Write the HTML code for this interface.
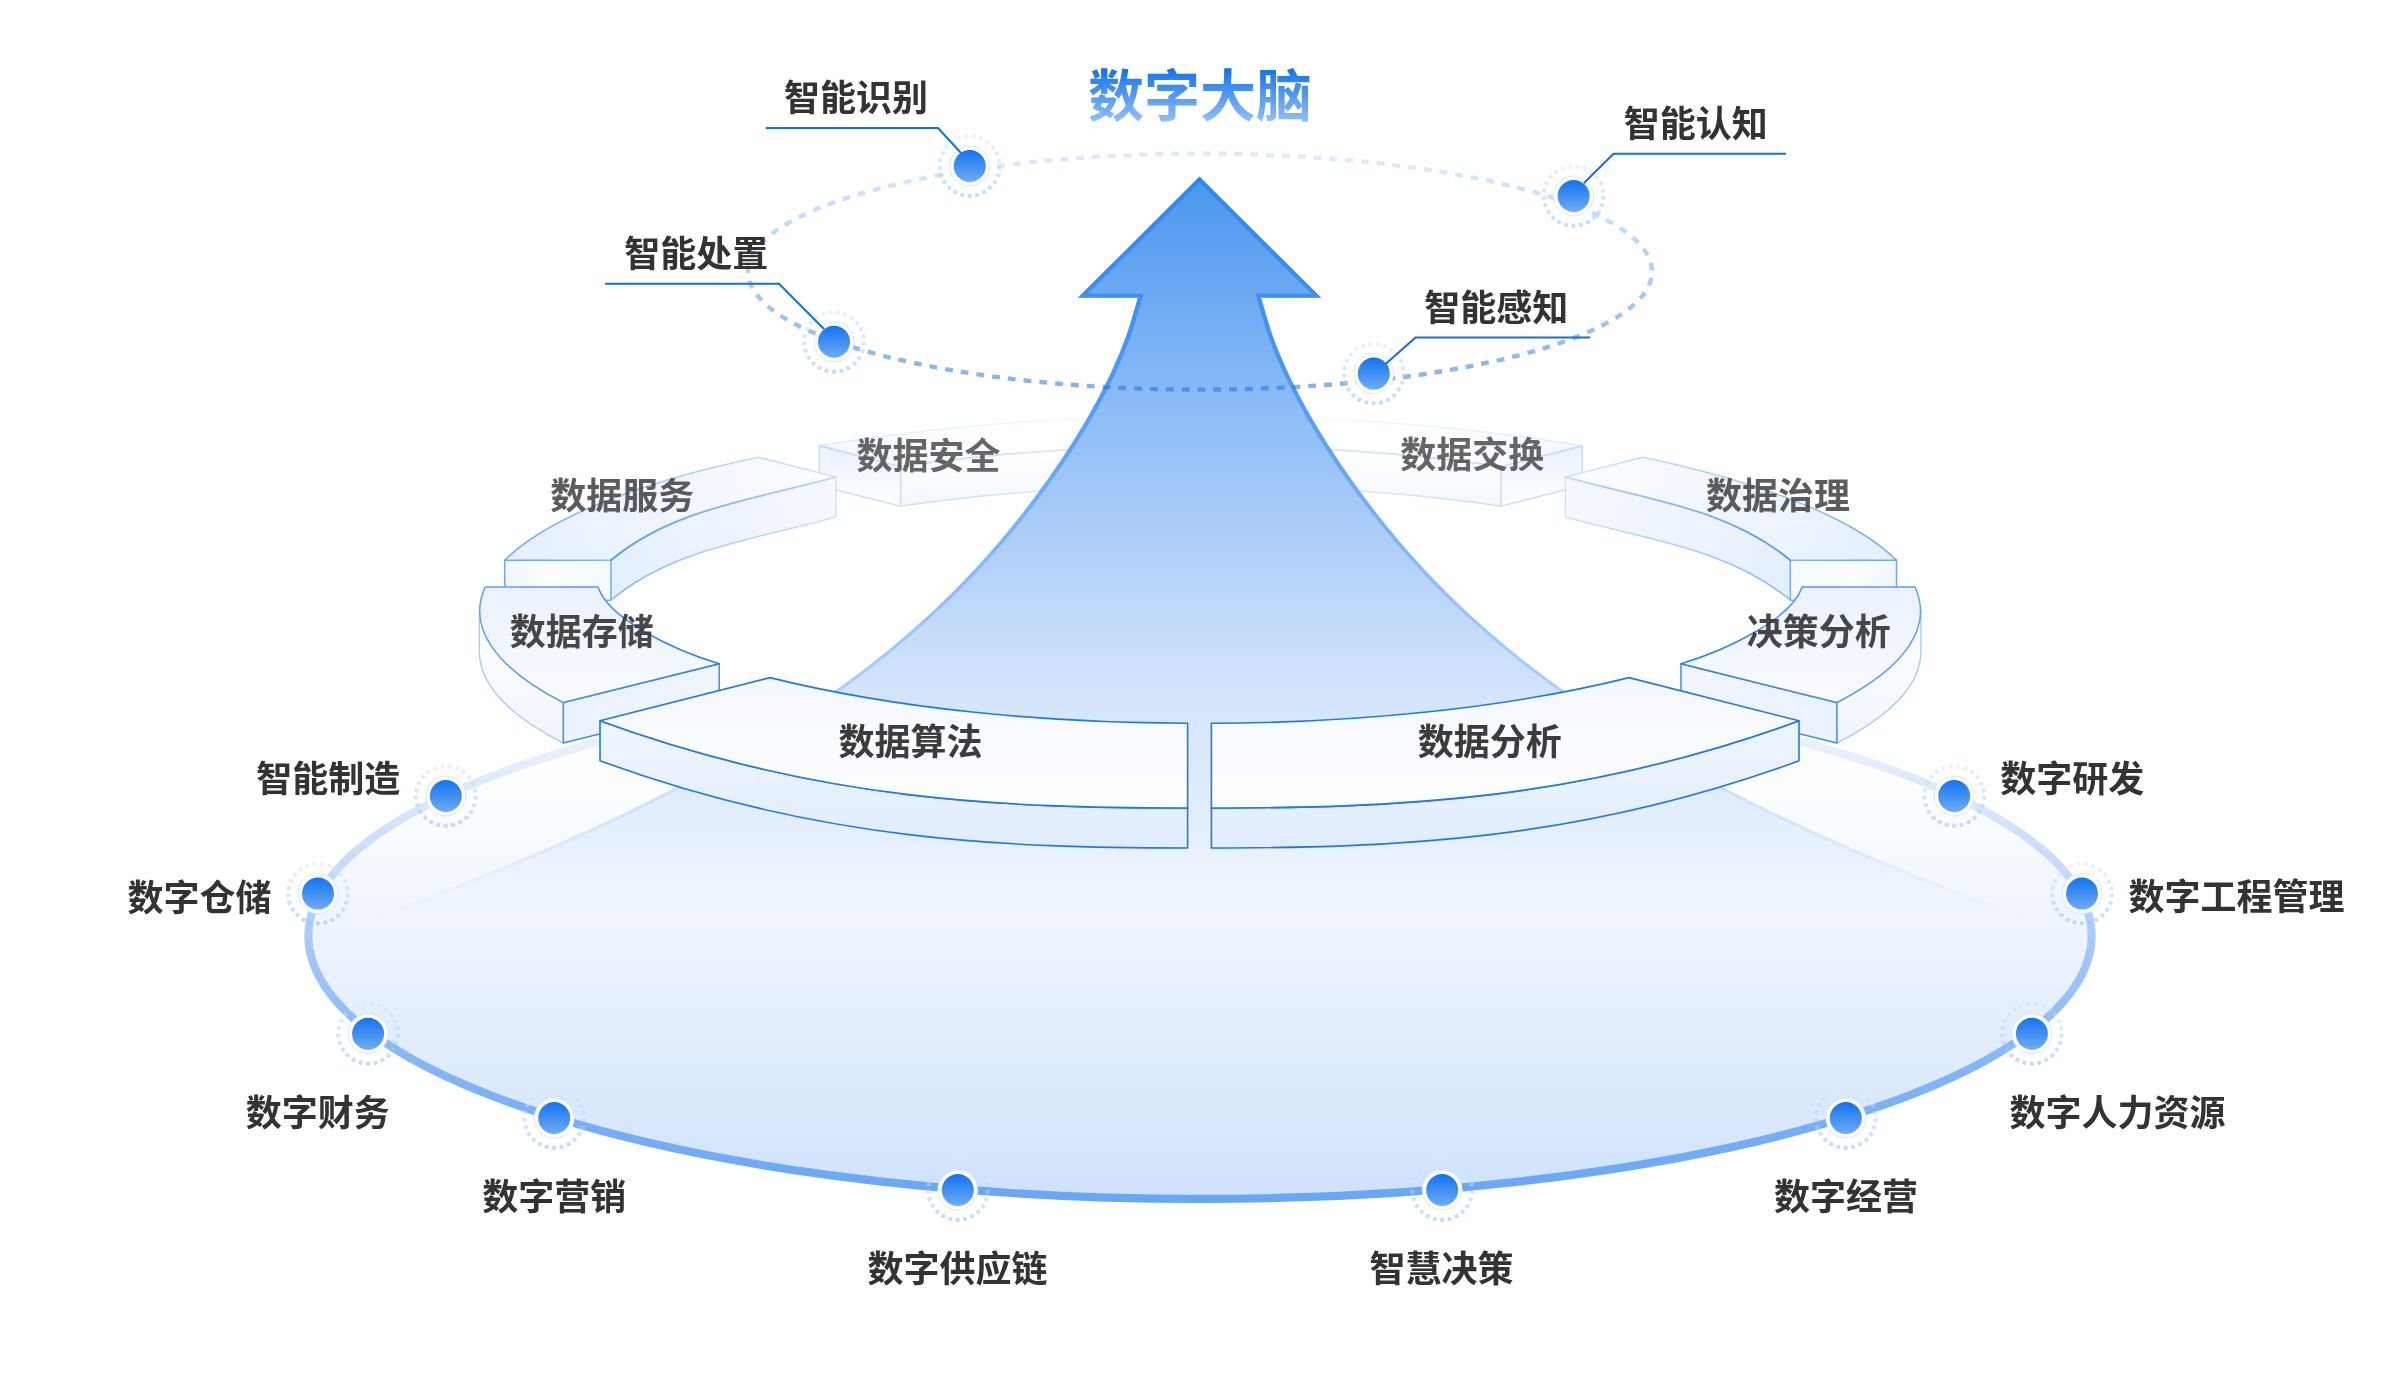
<!DOCTYPE html>
<html lang="zh-CN"><head><meta charset="utf-8"><title>数字大脑</title>
<style>
html,body{margin:0;padding:0;background:#fff;}
body{width:2400px;height:1396px;overflow:hidden;}
svg{display:block;font-family:"Liberation Sans","Noto Sans CJK SC",sans-serif;will-change:transform;}
</style></head><body>
<svg width="2400" height="1396" viewBox="0 0 2400 1396">
<defs>
<linearGradient id="gBase" gradientUnits="userSpaceOnUse" x1="0" y1="673" x2="0" y2="1199">
 <stop offset="0" stop-color="#ffffff"/><stop offset="0.24" stop-color="#fbfdff"/><stop offset="0.39" stop-color="#f3f8fe"/><stop offset="0.49" stop-color="#eef4fe"/><stop offset="0.62" stop-color="#e6f0fd"/><stop offset="0.81" stop-color="#dbe9fc"/><stop offset="1" stop-color="#cfe2fb"/>
</linearGradient>
<linearGradient id="gBaseS" gradientUnits="userSpaceOnUse" x1="0" y1="673" x2="0" y2="1199">
 <stop offset="0" stop-color="#f3f8fe"/><stop offset="0.13" stop-color="#e9f1fd"/><stop offset="0.23" stop-color="#dbe9fc"/><stop offset="0.42" stop-color="#bdd7f9"/><stop offset="0.5" stop-color="#a8cbf8"/><stop offset="0.75" stop-color="#83b6f6"/><stop offset="1" stop-color="#68a7f5"/>
</linearGradient>
<linearGradient id="gArrow" gradientUnits="userSpaceOnUse" x1="0" y1="177" x2="0" y2="1199">
 <stop offset="0.0" stop-color="#4a96f0"/><stop offset="0.2084" stop-color="#88b9f6"/><stop offset="0.502" stop-color="#d3e4fb"/><stop offset="0.6096" stop-color="#e1edfc"/><stop offset="0.6585" stop-color="#e8f1fd"/><stop offset="0.7515" stop-color="#eef4fe" stop-opacity="0"/>
</linearGradient>
<linearGradient id="gArrowS" gradientUnits="userSpaceOnUse" x1="0" y1="177" x2="0" y2="940">
 <stop offset="0.0" stop-color="#2f87f1"/><stop offset="0.2005" stop-color="#4293f3"/><stop offset="0.4495" stop-color="#7ab2f7"/><stop offset="0.6723" stop-color="#aed0fa"/><stop offset="0.8034" stop-color="#cfe2fb"/><stop offset="0.8952" stop-color="#dbe9fc" stop-opacity="0.8"/><stop offset="0.9803" stop-color="#e6f0fd" stop-opacity="0"/>
</linearGradient>
<linearGradient id="gOrb" gradientUnits="userSpaceOnUse" x1="0" y1="154" x2="0" y2="390">
 <stop offset="0" stop-color="#1a73e8" stop-opacity="0.14"/><stop offset="1" stop-color="#1a73e8" stop-opacity="0.55"/>
</linearGradient>
<linearGradient id="gDot" x1="0" y1="0" x2="0" y2="1">
 <stop offset="0" stop-color="#1273ee"/><stop offset="1" stop-color="#6eacf6"/>
</linearGradient>
<linearGradient id="gRing" gradientUnits="userSpaceOnUse" x1="0" y1="-32" x2="0" y2="32">
 <stop offset="0" stop-color="#dae9fd"/><stop offset="1" stop-color="#90bef6"/>
</linearGradient>
<linearGradient id="gTitle" gradientUnits="userSpaceOnUse" x1="0" y1="68" x2="0" y2="122">
 <stop offset="0" stop-color="#0f72ee"/><stop offset="1" stop-color="#93c0f8"/>
</linearGradient>
<linearGradient id="gTop" x1="0" y1="0" x2="0" y2="1">
 <stop offset="0" stop-color="#f4f8ff"/><stop offset="1" stop-color="#fdfeff"/>
</linearGradient>
<linearGradient id="gTop2" x1="0" y1="0" x2="0" y2="1">
 <stop offset="0" stop-color="#eaf2fe"/><stop offset="1" stop-color="#f9fbff"/>
</linearGradient>
<linearGradient id="gWall" x1="0" y1="0" x2="0" y2="1">
 <stop offset="0" stop-color="#eef5fe"/><stop offset="1" stop-color="#e1edfd"/>
</linearGradient>
<linearGradient id="gSideS" gradientUnits="userSpaceOnUse" x1="500" y1="590" x2="700" y2="690">
 <stop offset="0" stop-color="#5fa0f3"/><stop offset="1" stop-color="#2a7fec"/>
</linearGradient>
<linearGradient id="gSideWall" gradientUnits="userSpaceOnUse" x1="0" y1="612" x2="0" y2="745">
 <stop offset="0" stop-color="#ffffff"/><stop offset="1" stop-color="#eff5fe"/>
</linearGradient>
<linearGradient id="gSideEnd" gradientUnits="userSpaceOnUse" x1="560" y1="0" x2="720" y2="0">
 <stop offset="0" stop-color="#e9f2fe"/><stop offset="1" stop-color="#f1f6fe"/>
</linearGradient>
<linearGradient id="gMidS" gradientUnits="userSpaceOnUse" x1="560" y1="600" x2="830" y2="460">
 <stop offset="0" stop-color="#6eaaf4"/><stop offset="0.5" stop-color="#a8ccf8"/><stop offset="1" stop-color="#d3e4fc"/>
</linearGradient>
<linearGradient id="gMidTop" gradientUnits="userSpaceOnUse" x1="540" y1="570" x2="800" y2="460">
 <stop offset="0" stop-color="#e6f0fe"/><stop offset="1" stop-color="#fafcff"/>
</linearGradient>
<linearGradient id="gMidWall" gradientUnits="userSpaceOnUse" x1="610" y1="590" x2="840" y2="490">
 <stop offset="0" stop-color="#e4effd"/><stop offset="1" stop-color="#f6f9ff"/>
</linearGradient>
<linearGradient id="gBackS" gradientUnits="userSpaceOnUse" x1="820" y1="0" x2="1100" y2="0">
 <stop offset="0" stop-color="#c6dcfa"/><stop offset="1" stop-color="#d9e8fc"/>
</linearGradient>
<linearGradient id="gBackTop" gradientUnits="userSpaceOnUse" x1="820" y1="0" x2="1000" y2="0">
 <stop offset="0" stop-color="#f3f8fe"/><stop offset="1" stop-color="#ffffff"/>
</linearGradient>
<linearGradient id="gBackWall" gradientUnits="userSpaceOnUse" x1="0" y1="455" x2="0" y2="506">
 <stop offset="0" stop-color="#ffffff"/><stop offset="1" stop-color="#f3f7fe"/>
</linearGradient>
<linearGradient id="gBackEnd" gradientUnits="userSpaceOnUse" x1="0" y1="446" x2="0" y2="506">
 <stop offset="0" stop-color="#eaf2fd"/><stop offset="1" stop-color="#fdfeff"/>
</linearGradient>
<linearGradient id="gArrowS2" gradientUnits="userSpaceOnUse" x1="0" y1="177" x2="0" y2="620">
 <stop offset="0" stop-color="#2f87f1"/><stop offset="0.35" stop-color="#4293f3"/><stop offset="0.6" stop-color="#5ba1f5" stop-opacity="0.9"/><stop offset="1" stop-color="#8fbef8" stop-opacity="0"/>
</linearGradient>
<linearGradient id="gBackS2" gradientUnits="userSpaceOnUse" x1="820" y1="0" x2="1060" y2="0">
 <stop offset="0" stop-color="#dbe9fc"/><stop offset="1" stop-color="#f3f7fe"/>
</linearGradient>
<linearGradient id="gMidFront" gradientUnits="userSpaceOnUse" x1="505" y1="600" x2="611" y2="560">
 <stop offset="0" stop-color="#eef4fe"/><stop offset="0.45" stop-color="#fbfdff"/><stop offset="1" stop-color="#f6f9ff"/>
</linearGradient>
<linearGradient id="gMidS3" gradientUnits="userSpaceOnUse" x1="611" y1="560" x2="836" y2="477">
 <stop offset="0" stop-color="#4f97f2"/><stop offset="0.6" stop-color="#8abaf7"/><stop offset="1" stop-color="#c3dbfb"/>
</linearGradient>
<g id="dot">
 <circle r="29.8" fill="none" stroke="url(#gRing)" stroke-opacity="0.54" stroke-width="4" stroke-dasharray="3.75 3.74"/>
 <circle r="20" fill="#fff" stroke="#cfe2fb" stroke-width="0.8"/>
 <circle r="16" fill="url(#gDot)"/>
</g>
</defs>
<rect width="2400" height="1396" fill="#fff"/>
<!-- base -->
<ellipse cx="1200" cy="936" rx="891.6" ry="263" fill="url(#gBase)"/>
<!-- back ring -->
<g><path d="M819.4 445.7A720.2 195.6 0 0 1 1195 416.2L1195 446A631.1 172.9 0 0 0 900.6 466.6Z" fill="url(#gBackTop)"/><path d="M819.4 445.7A720.2 195.6 0 0 1 1195 416.2" fill="none" stroke="url(#gBackS2)" stroke-width="1.3" stroke-linejoin="round" stroke-linecap="round"/><path d="M900.6 466.6A631.1 172.9 0 0 1 1195 446L1195 485.5A631.1 172.9 0 0 0 900.6 506.1Z" fill="url(#gBackWall)" stroke="url(#gBackS)" stroke-width="1.4" stroke-linejoin="round" stroke-linecap="round"/><path d="M819.4 445.7L900.6 466.6L900.6 506.1L819.4 485.7Z" fill="url(#gBackEnd)" stroke="url(#gBackS)" stroke-width="1.4" stroke-linejoin="round" stroke-linecap="round"/><path d="M819.4 445.7L900.6 466.6A631.1 172.9 0 0 1 1195 446" fill="none" stroke="url(#gBackS)" stroke-width="1.4" stroke-linejoin="round" stroke-linecap="round"/></g><g transform="translate(2401.6,0) scale(-1,1)"><path d="M819.4 445.7A720.2 195.6 0 0 1 1195 416.2L1195 446A631.1 172.9 0 0 0 900.6 466.6Z" fill="url(#gBackTop)"/><path d="M819.4 445.7A720.2 195.6 0 0 1 1195 416.2" fill="none" stroke="url(#gBackS2)" stroke-width="1.3" stroke-linejoin="round" stroke-linecap="round"/><path d="M900.6 466.6A631.1 172.9 0 0 1 1195 446L1195 485.5A631.1 172.9 0 0 0 900.6 506.1Z" fill="url(#gBackWall)" stroke="url(#gBackS)" stroke-width="1.4" stroke-linejoin="round" stroke-linecap="round"/><path d="M819.4 445.7L900.6 466.6L900.6 506.1L819.4 485.7Z" fill="url(#gBackEnd)" stroke="url(#gBackS)" stroke-width="1.4" stroke-linejoin="round" stroke-linecap="round"/><path d="M819.4 445.7L900.6 466.6A631.1 172.9 0 0 1 1195 446" fill="none" stroke="url(#gBackS)" stroke-width="1.4" stroke-linejoin="round" stroke-linecap="round"/></g>
<g><path d="M610.8 560.3C672.7 508.3 755.8 499.3 835.8 477L835.8 517C755.8 539.3 672.7 548.3 610.8 600.3Z" fill="url(#gMidWall)" stroke="url(#gMidS)" stroke-width="1.5" stroke-linejoin="round" stroke-linecap="round"/><path d="M504.7 560.3L610.8 560.3L610.8 600.3L504.7 600.3Z" fill="url(#gMidFront)" stroke="url(#gMidS)" stroke-width="1.5" stroke-linejoin="round" stroke-linecap="round"/><path d="M504.7 560.3A720.2 195.6 0 0 1 758.3 457.2L835.8 477C755.8 499.3 672.7 508.3 610.8 560.3Z" fill="url(#gMidTop)" stroke="url(#gMidS)" stroke-width="1.5" stroke-linejoin="round" stroke-linecap="round"/><path d="M610.8 560.3C672.7 508.3 755.8 499.3 835.8 477" fill="none" stroke="url(#gMidS3)" stroke-width="1.6" stroke-linejoin="round" stroke-linecap="round"/></g><g transform="translate(2401.2,0) scale(-1,1)"><path d="M610.8 560.3C672.7 508.3 755.8 499.3 835.8 477L835.8 517C755.8 539.3 672.7 548.3 610.8 600.3Z" fill="url(#gMidWall)" stroke="url(#gMidS)" stroke-width="1.5" stroke-linejoin="round" stroke-linecap="round"/><path d="M504.7 560.3L610.8 560.3L610.8 600.3L504.7 600.3Z" fill="url(#gMidFront)" stroke="url(#gMidS)" stroke-width="1.5" stroke-linejoin="round" stroke-linecap="round"/><path d="M504.7 560.3A720.2 195.6 0 0 1 758.3 457.2L835.8 477C755.8 499.3 672.7 508.3 610.8 560.3Z" fill="url(#gMidTop)" stroke="url(#gMidS)" stroke-width="1.5" stroke-linejoin="round" stroke-linecap="round"/><path d="M610.8 560.3C672.7 508.3 755.8 499.3 835.8 477" fill="none" stroke="url(#gMidS3)" stroke-width="1.6" stroke-linejoin="round" stroke-linecap="round"/></g>
<!-- arrow -->
<path d="M1199.5 179.6L1082.9 295.6L1140.7 295.6C1138.6 302.5 1132.8 323.9 1128.1 337.1C1123.4 350.2 1118.1 362.2 1112.5 374.3C1106.8 386.5 1100.5 398.4 1094 410.2C1087.5 421.9 1080.5 433.4 1073.3 444.8C1066.1 456.2 1058.5 467.4 1050.7 478.4C1043 489.4 1034.9 500.3 1026.6 511C1018.4 521.6 1009.8 532.1 1001 542.4C992.2 552.7 983.2 562.7 974 572.6C964.7 582.4 955.3 592 945.6 601.3C935.9 610.7 926 619.8 915.9 628.7C905.9 637.6 895.6 646.2 885.2 654.7C874.7 663.1 864.1 671.3 853.3 679.3C842.6 687.4 831.6 695.2 820.5 702.8C809.5 710.4 798.3 717.8 786.9 725.1C775.6 732.3 764.1 739.4 752.5 746.3C741 753.2 729.3 759.9 717.5 766.5C705.8 773.1 693.9 779.5 682 785.8C670 792 658 798.1 646 804.1C633.9 810.1 621.8 816 609.6 821.7C597.4 827.4 585.1 833 572.8 838.5C560.5 844 548.2 849.4 535.8 854.7C523.4 859.9 511 865.1 498.5 870.2C486 875.3 473.5 880.3 461 885.2C448.5 890.1 436 895 423.4 899.7C410.8 904.5 398.3 909.2 385.6 913.7C373 918.2 360.3 922.8 347.5 926.5C334.6 930.3 314.9 934.4 308.4 936A891.6 263 0 0 0 2090.6 936C2084.1 934.4 2064.4 930.3 2051.5 926.5C2038.7 922.8 2026 918.2 2013.4 913.7C2000.7 909.2 1988.2 904.5 1975.6 899.7C1963 895 1950.5 890.1 1938 885.2C1925.5 880.3 1913 875.3 1900.5 870.2C1888 865.1 1875.6 859.9 1863.2 854.7C1850.8 849.4 1838.5 844 1826.2 838.5C1813.9 833 1801.6 827.4 1789.4 821.7C1777.2 816 1765.1 810.1 1753 804.1C1741 798.1 1729 792 1717 785.8C1705.1 779.5 1693.2 773.1 1681.5 766.5C1669.7 759.9 1658 753.2 1646.5 746.3C1634.9 739.4 1623.4 732.3 1612.1 725.1C1600.7 717.8 1589.5 710.4 1578.5 702.8C1567.4 695.2 1556.4 687.4 1545.7 679.3C1534.9 671.3 1524.3 663.1 1513.8 654.7C1503.4 646.2 1493.1 637.6 1483.1 628.7C1473 619.8 1463.1 610.7 1453.4 601.3C1443.7 592 1434.3 582.4 1425 572.6C1415.8 562.7 1406.8 552.7 1398 542.4C1389.2 532.1 1380.6 521.6 1372.4 511C1364.1 500.3 1356 489.4 1348.3 478.4C1340.5 467.4 1332.9 456.2 1325.7 444.8C1318.5 433.4 1311.5 421.9 1305 410.2C1298.5 398.4 1292.2 386.5 1286.5 374.3C1280.9 362.2 1275.6 350.2 1270.9 337.1C1266.2 323.9 1260.4 302.5 1258.3 295.6L1316.1 295.6Z" fill="url(#gArrow)"/>
<path d="M308.4 936C314.9 934.4 334.6 930.3 347.5 926.5C360.3 922.8 373 918.2 385.6 913.7C398.3 909.2 410.8 904.5 423.4 899.7C436 895 448.5 890.1 461 885.2C473.5 880.3 486 875.3 498.5 870.2C511 865.1 523.4 859.9 535.8 854.7C548.2 849.4 560.5 844 572.8 838.5C585.1 833 597.4 827.4 609.6 821.7C621.8 816 633.9 810.1 646 804.1C658 798.1 670 792 682 785.8C693.9 779.5 705.8 773.1 717.5 766.5C729.3 759.9 741 753.2 752.5 746.3C764.1 739.4 775.6 732.3 786.9 725.1C798.3 717.8 809.5 710.4 820.5 702.8C831.6 695.2 842.6 687.4 853.3 679.3C864.1 671.3 874.7 663.1 885.2 654.7C895.6 646.2 905.9 637.6 915.9 628.7C926 619.8 935.9 610.7 945.6 601.3C955.3 592 964.7 582.4 974 572.6C983.2 562.7 992.2 552.7 1001 542.4C1009.8 532.1 1018.4 521.6 1026.6 511C1034.9 500.3 1043 489.4 1050.7 478.4C1058.5 467.4 1066.1 456.2 1073.3 444.8C1080.5 433.4 1087.5 421.9 1094 410.2C1100.5 398.4 1106.8 386.5 1112.5 374.3C1118.1 362.2 1123.4 350.2 1128.1 337.1C1132.8 323.9 1138.6 302.5 1140.7 295.6L1082.9 295.6L1199.5 179.6L1316.1 295.6L1258.3 295.6C1260.4 302.5 1266.2 323.9 1270.9 337.1C1275.6 350.2 1280.9 362.2 1286.5 374.3C1292.2 386.5 1298.5 398.4 1305 410.2C1311.5 421.9 1318.5 433.4 1325.7 444.8C1332.9 456.2 1340.5 467.4 1348.3 478.4C1356 489.4 1364.1 500.3 1372.4 511C1380.6 521.6 1389.2 532.1 1398 542.4C1406.8 552.7 1415.8 562.7 1425 572.6C1434.3 582.4 1443.7 592 1453.4 601.3C1463.1 610.7 1473 619.8 1483.1 628.7C1493.1 637.6 1503.4 646.2 1513.8 654.7C1524.3 663.1 1534.9 671.3 1545.7 679.3C1556.4 687.4 1567.4 695.2 1578.5 702.8C1589.5 710.4 1600.7 717.8 1612.1 725.1C1623.4 732.3 1634.9 739.4 1646.5 746.3C1658 753.2 1669.7 759.9 1681.5 766.5C1693.2 773.1 1705.1 779.5 1717 785.8C1729 792 1741 798.1 1753 804.1C1765.1 810.1 1777.2 816 1789.4 821.7C1801.6 827.4 1813.9 833 1826.2 838.5C1838.5 844 1850.8 849.4 1863.2 854.7C1875.6 859.9 1888 865.1 1900.5 870.2C1913 875.3 1925.5 880.3 1938 885.2C1950.5 890.1 1963 895 1975.6 899.7C1988.2 904.5 2000.7 909.2 2013.4 913.7C2026 918.2 2038.7 922.8 2051.5 926.5C2064.4 930.3 2084.1 934.4 2090.6 936" fill="none" stroke="url(#gArrowS)" stroke-width="3.1" stroke-linejoin="miter" stroke-miterlimit="10"/>
<path d="M308.4 936C314.9 934.4 334.6 930.3 347.5 926.5C360.3 922.8 373 918.2 385.6 913.7C398.3 909.2 410.8 904.5 423.4 899.7C436 895 448.5 890.1 461 885.2C473.5 880.3 486 875.3 498.5 870.2C511 865.1 523.4 859.9 535.8 854.7C548.2 849.4 560.5 844 572.8 838.5C585.1 833 597.4 827.4 609.6 821.7C621.8 816 633.9 810.1 646 804.1C658 798.1 670 792 682 785.8C693.9 779.5 705.8 773.1 717.5 766.5C729.3 759.9 741 753.2 752.5 746.3C764.1 739.4 775.6 732.3 786.9 725.1C798.3 717.8 809.5 710.4 820.5 702.8C831.6 695.2 842.6 687.4 853.3 679.3C864.1 671.3 874.7 663.1 885.2 654.7C895.6 646.2 905.9 637.6 915.9 628.7C926 619.8 935.9 610.7 945.6 601.3C955.3 592 964.7 582.4 974 572.6C983.2 562.7 992.2 552.7 1001 542.4C1009.8 532.1 1018.4 521.6 1026.6 511C1034.9 500.3 1043 489.4 1050.7 478.4C1058.5 467.4 1066.1 456.2 1073.3 444.8C1080.5 433.4 1087.5 421.9 1094 410.2C1100.5 398.4 1106.8 386.5 1112.5 374.3C1118.1 362.2 1123.4 350.2 1128.1 337.1C1132.8 323.9 1138.6 302.5 1140.7 295.6L1082.9 295.6L1199.5 179.6L1316.1 295.6L1258.3 295.6C1260.4 302.5 1266.2 323.9 1270.9 337.1C1275.6 350.2 1280.9 362.2 1286.5 374.3C1292.2 386.5 1298.5 398.4 1305 410.2C1311.5 421.9 1318.5 433.4 1325.7 444.8C1332.9 456.2 1340.5 467.4 1348.3 478.4C1356 489.4 1364.1 500.3 1372.4 511C1380.6 521.6 1389.2 532.1 1398 542.4C1406.8 552.7 1415.8 562.7 1425 572.6C1434.3 582.4 1443.7 592 1453.4 601.3C1463.1 610.7 1473 619.8 1483.1 628.7C1493.1 637.6 1503.4 646.2 1513.8 654.7C1524.3 663.1 1534.9 671.3 1545.7 679.3C1556.4 687.4 1567.4 695.2 1578.5 702.8C1589.5 710.4 1600.7 717.8 1612.1 725.1C1623.4 732.3 1634.9 739.4 1646.5 746.3C1658 753.2 1669.7 759.9 1681.5 766.5C1693.2 773.1 1705.1 779.5 1717 785.8C1729 792 1741 798.1 1753 804.1C1765.1 810.1 1777.2 816 1789.4 821.7C1801.6 827.4 1813.9 833 1826.2 838.5C1838.5 844 1850.8 849.4 1863.2 854.7C1875.6 859.9 1888 865.1 1900.5 870.2C1913 875.3 1925.5 880.3 1938 885.2C1950.5 890.1 1963 895 1975.6 899.7C1988.2 904.5 2000.7 909.2 2013.4 913.7C2026 918.2 2038.7 922.8 2051.5 926.5C2064.4 930.3 2084.1 934.4 2090.6 936" fill="none" stroke="url(#gArrowS2)" stroke-width="4.3" stroke-linejoin="miter" stroke-miterlimit="10"/>
<path d="M640 731.3 A891.6 263 0 1 0 1760 731.3" fill="none" stroke="url(#gBaseS)" stroke-width="8.2"/>
<!-- orbit -->
<ellipse cx="1200" cy="271.6" rx="452" ry="118" fill="none" stroke="url(#gOrb)" stroke-width="4.4" stroke-dasharray="7.8 8.038" stroke-dashoffset="9.4"/>
<!-- front ring -->
<g><path d="M479.3 611.8A720.2 195.6 0 0 0 563.3 702.6L563.3 743.1A720.2 195.6 0 0 1 479.3 652.3Z" fill="url(#gSideWall)"/><path d="M479.3 611.8L479.3 652.3A720.2 195.6 0 0 0 563.3 743.1" fill="none" stroke="#a8ccf8" stroke-width="1.4" stroke-linejoin="round" stroke-linecap="round"/><path d="M563.3 702.6L719.2 663.7L719.2 704.2L563.3 743.1Z" fill="url(#gSideEnd)" stroke="#3f8df0" stroke-width="1.5" stroke-linejoin="round" stroke-linecap="round"/><path d="M485.2 587L598 587C608.4 618.2 671.5 649.6 719.2 663.7L563.3 702.6A720.2 195.6 0 0 1 485.2 587Z" fill="url(#gTop2)" stroke="url(#gSideS)" stroke-width="1.5" stroke-linejoin="round" stroke-linecap="round"/></g><g transform="translate(2400.2,0) scale(-1,1)"><path d="M479.3 611.8A720.2 195.6 0 0 0 563.3 702.6L563.3 743.1A720.2 195.6 0 0 1 479.3 652.3Z" fill="url(#gSideWall)"/><path d="M479.3 611.8L479.3 652.3A720.2 195.6 0 0 0 563.3 743.1" fill="none" stroke="#a8ccf8" stroke-width="1.4" stroke-linejoin="round" stroke-linecap="round"/><path d="M563.3 702.6L719.2 663.7L719.2 704.2L563.3 743.1Z" fill="url(#gSideEnd)" stroke="#3f8df0" stroke-width="1.5" stroke-linejoin="round" stroke-linecap="round"/><path d="M485.2 587L598 587C608.4 618.2 671.5 649.6 719.2 663.7L563.3 702.6A720.2 195.6 0 0 1 485.2 587Z" fill="url(#gTop2)" stroke="url(#gSideS)" stroke-width="1.5" stroke-linejoin="round" stroke-linecap="round"/></g>
<g><path d="M600 720.8C821.1 801.7 1006.2 807.7 1187.6 808L1187.6 848C1006.2 847.7 821.1 841.7 600 760.8Z" fill="url(#gWall)" stroke="#2079ec" stroke-width="1.6" stroke-linejoin="round" stroke-linecap="round"/><path d="M600 720.8L770 677.6C895.2 708.8 1045.6 723.1 1187.6 723.2L1187.6 808C1006.2 807.7 821.1 801.7 600 720.8Z" fill="url(#gTop)" stroke="#2079ec" stroke-width="1.6" stroke-linejoin="round" stroke-linecap="round"/></g><g transform="translate(2399,0) scale(-1,1)"><path d="M600 720.8C821.1 801.7 1006.2 807.7 1187.6 808L1187.6 848C1006.2 847.7 821.1 841.7 600 760.8Z" fill="url(#gWall)" stroke="#2079ec" stroke-width="1.6" stroke-linejoin="round" stroke-linecap="round"/><path d="M600 720.8L770 677.6C895.2 708.8 1045.6 723.1 1187.6 723.2L1187.6 808C1006.2 807.7 821.1 801.7 600 720.8Z" fill="url(#gTop)" stroke="#2079ec" stroke-width="1.6" stroke-linejoin="round" stroke-linecap="round"/></g>
<!-- dots -->
<g><use href="#dot" x="969.7" y="166"/><use href="#dot" x="834" y="341.8"/><use href="#dot" x="1573.6" y="196"/><use href="#dot" x="1373.8" y="373.6"/><use href="#dot" x="445.8" y="796"/><use href="#dot" x="318" y="893.6"/><use href="#dot" x="368.1" y="1033.7"/><use href="#dot" x="554.2" y="1118"/><use href="#dot" x="957.8" y="1190"/><use href="#dot" x="1954.2" y="796"/><use href="#dot" x="2082" y="893.6"/><use href="#dot" x="2031.9" y="1033.7"/><use href="#dot" x="1845.8" y="1118"/><use href="#dot" x="1442.2" y="1190"/></g>
<g fill="none" stroke="#0f6fee" stroke-width="2"><polyline points="765.8,128 938,128 961,153"/><polyline points="605,283.8 779,283.8 824,329"/><polyline points="1786,153.8 1613.5,153.8 1583.8,183.2"/><polyline points="1590.2,337.5 1415.5,337.5 1385.3,364.2"/></g>
<!-- labels -->
<text x="1200.1" y="116.2" font-size="56" font-weight="700" text-anchor="middle" fill="url(#gTitle)">数字大脑</text>
<g font-size="36" font-weight="700" text-anchor="middle"><text x="856" y="110.6" fill="#333">智能识别</text><text x="696.2" y="267.1" fill="#333">智能处置</text><text x="1695.7" y="136.9" fill="#333">智能认知</text><text x="1496.2" y="321.1" fill="#333">智能感知</text><text x="928.5" y="468.9" fill="#333" fill-opacity="0.75">数据安全</text><text x="622.2" y="509" fill="#333" fill-opacity="0.8">数据服务</text><text x="581.7" y="644.6" fill="#333" fill-opacity="0.9">数据存储</text><text x="910.4" y="754.5" fill="#333" fill-opacity="0.955">数据算法</text><text x="1472.2" y="468.4" fill="#333" fill-opacity="0.75">数据交换</text><text x="1778" y="509" fill="#333" fill-opacity="0.8">数据治理</text><text x="1818.8" y="644.6" fill="#333" fill-opacity="0.9">决策分析</text><text x="1489.7" y="754.5" fill="#333" fill-opacity="0.955">数据分析</text><text x="328.2" y="792.4" fill="#333">智能制造</text><text x="199.5" y="910.8" fill="#333">数字仓储</text><text x="317.7" y="1125.9" fill="#333">数字财务</text><text x="554.2" y="1209.6" fill="#333">数字营销</text><text x="957.5" y="1282.1" fill="#333">数字供应链</text><text x="1441.4" y="1281.6" fill="#333">智慧决策</text><text x="1846.1" y="1209.6" fill="#333">数字经营</text><text x="2072.2" y="792.4" fill="#333">数字研发</text><text x="2236.5" y="910.3" fill="#333">数字工程管理</text><text x="2117.6" y="1125.9" fill="#333">数字人力资源</text></g>
</svg>
</body></html>
